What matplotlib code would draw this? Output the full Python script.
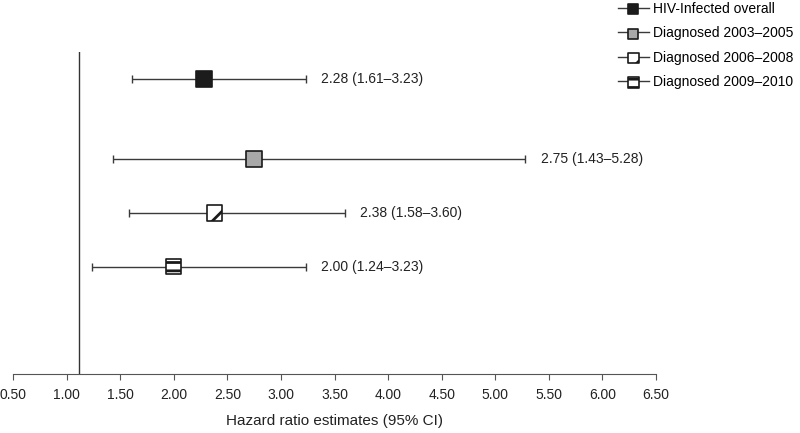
import matplotlib.pyplot as plt
from matplotlib.lines import Line2D
from matplotlib.legend_handler import HandlerTuple

plt.rcParams.update({
    'font.family': ['Liberation Sans', 'DejaVu Sans'],
    'font.size': 10,
    'hatch.linewidth': 2.0,
})

# Data
groups = ['HIV-Infected overall', 'Diagnosed 2003\u20132005',
          'Diagnosed 2006\u20132008', 'Diagnosed 2009\u20132010']
hr = [2.28, 2.75, 2.38, 2.00]
ci_low = [1.61, 1.43, 1.58, 1.24]
ci_high = [3.23, 5.28, 3.60, 3.23]
row_y = [5.5, 4.0, 3.0, 2.0]
ref_x = 1.12
xticks = [0.5, 1.0, 1.5, 2.0, 2.5, 3.0, 3.5, 4.0, 4.5, 5.0, 5.5, 6.0, 6.5]

# marker styles per group
face = ['#1c1c1c', '#a8a8a8', 'white', 'white']
hatch = [None, None, '/', '--']

fig = plt.figure(figsize=(8, 4.33), dpi=100)
ax = fig.add_axes([0.01625, 0.1363, 0.80375, 0.7437])

handles = []
for i in range(len(groups)):
    ax.errorbar(hr[i], row_y[i],
                xerr=[[hr[i] - ci_low[i]], [ci_high[i] - hr[i]]],
                fmt='none', ecolor='#3a3a3a', elinewidth=1, capsize=3,
                capthick=1, zorder=2)
    sc = ax.scatter(hr[i], row_y[i], s=120, marker='s', c=face[i],
                    edgecolors='#1a1a1a', linewidths=1.2, hatch=hatch[i],
                    zorder=3)
    ax.annotate(f'{hr[i]:.2f} ({ci_low[i]:.2f}\u2013{ci_high[i]:.2f})',
                xy=(ci_high[i], row_y[i]), xytext=(11, 0),
                textcoords='offset points', va='center', ha='left',
                fontsize=10, color='#222222')
    ln = Line2D([], [], color='#3a3a3a', lw=1)
    handles.append((ln, sc))

ax.axvline(ref_x, color='#333333', lw=1, zorder=1)

ax.set_xlim(0.5, 6.5)
ax.set_ylim(0, 6)
ax.set_xticks(xticks)
ax.set_xticklabels([f'{t:.2f}' for t in xticks])
ax.set_yticks([])
for s in ['left', 'right', 'top']:
    ax.spines[s].set_visible(False)
ax.spines['bottom'].set_color('#555555')
ax.tick_params(axis='x', length=4, color='#555555', labelsize=10,
               labelcolor='#222222', pad=6)
ax.set_xlabel('Hazard ratio estimates (95% CI)', fontsize=11,
              color='#222222', labelpad=9)

leg = fig.legend(handles, groups, loc='upper left',
                 bbox_to_anchor=(0.757, 1.025), frameon=False,
                 handler_map={tuple: HandlerTuple(ndivide=1)},
                 handlelength=2.2, handletextpad=0.3, labelspacing=0.76,
                 fontsize=10, scatterpoints=1, markerscale=0.7)

fig.savefig('out.png', dpi=100)
